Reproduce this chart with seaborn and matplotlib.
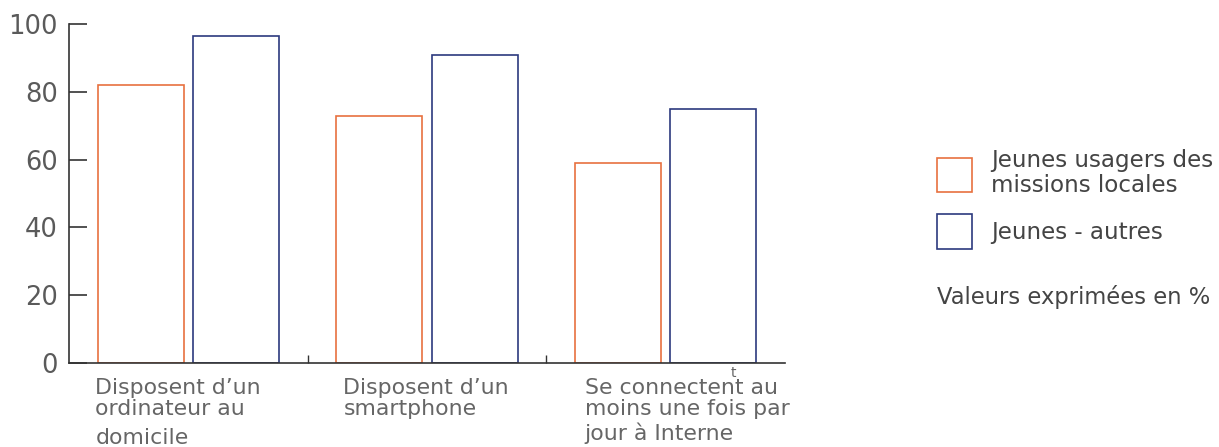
import pandas as pd
import seaborn as sns
import matplotlib.pyplot as plt
from matplotlib.transforms import blended_transform_factory

# data
categories = ["cat0", "cat1", "cat2"]
cat_labels = [
    ["Disposent d\u2019un", "ordinateur au", "domicile"],
    ["Disposent d\u2019un", "smartphone"],
    ["Se connectent au", "moins une fois par", "jour \u00e0 Interne"],
]
groups = ["Jeunes usagers des\nmissions locales", "Jeunes - autres"]
usagers = [82, 73, 59]
autres = [96.5, 91, 75]
colors = ["#E8713F", "#2C3A7E"]

df = pd.DataFrame({
    "cat": categories * 2,
    "groupe": [groups[0]] * 3 + [groups[1]] * 3,
    "valeur": usagers + autres,
})

sns.set_theme(style="white")
plt.rcParams["font.family"] = ["DejaVu Sans"]

fig = plt.figure(figsize=(12.19, 4.47), dpi=100)
ax = fig.add_axes([69 / 1219, 84 / 447, 716 / 1219, 339 / 447])

sns.barplot(data=df, x="cat", y="valeur", hue="groupe", hue_order=groups,
            palette=colors, fill=False, width=0.8, gap=0.1, linewidth=1.2,
            errorbar=None, ax=ax)

ax.set_xlim(-0.5, 2.5)
ax.set_ylim(0, 100)
ax.set_xlabel("")
ax.set_ylabel("")
for s in ["top", "right"]:
    ax.spines[s].set_visible(False)
for s in ["left", "bottom"]:
    ax.spines[s].set_color("#333333")
    ax.spines[s].set_linewidth(1.2)

ax.set_yticks([0, 20, 40, 60, 80, 100])
ax.tick_params(axis="y", direction="in", length=13, width=1.2, color="#333333",
               labelsize=18.5, labelcolor="#5a5a5a", pad=8, left=True)
ax.set_xticks([0.5, 1.5])
ax.set_xticklabels([])
ax.tick_params(axis="x", direction="in", length=6, width=1.0, color="#333333",
               bottom=True)

# category labels, left aligned under each group
trans = blended_transform_factory(ax.transData, fig.transFigure)
line_y = [[388, 409, 438], [388, 409], [388, 409, 433]]
x_off = [-0.39, -0.35, -0.34]
for i, lines in enumerate(cat_labels):
    for txt, yy in zip(lines, line_y[i]):
        ax.text(i + x_off[i], 1 - yy / 447, txt, transform=trans, ha="left",
                va="center", fontsize=15.8, color="#666666")
fig.text(733 / 1219, 1 - 373 / 447, "t", ha="center", va="center",
         fontsize=10, color="#666666")

# legend
handles, labels = ax.get_legend_handles_labels()
ax.get_legend().remove()
leg = fig.legend(handles, labels, loc="upper left",
                 bbox_to_anchor=(937 / 1219, 1 - 149 / 447),
                 bbox_transform=fig.transFigure, frameon=False, fontsize=16.6,
                 labelcolor="#444444", handlelength=1.5, handleheight=1.9,
                 handletextpad=0.85, labelspacing=0.75, borderpad=0,
                 borderaxespad=0)
for t in leg.get_texts():
    t.set_linespacing(1.12)
fig.text(937 / 1219, 1 - 297 / 447, "Valeurs exprim\u00e9es en %",
         ha="left", va="center", fontsize=16.3, color="#444444")

fig.savefig("out.png", dpi=100)
